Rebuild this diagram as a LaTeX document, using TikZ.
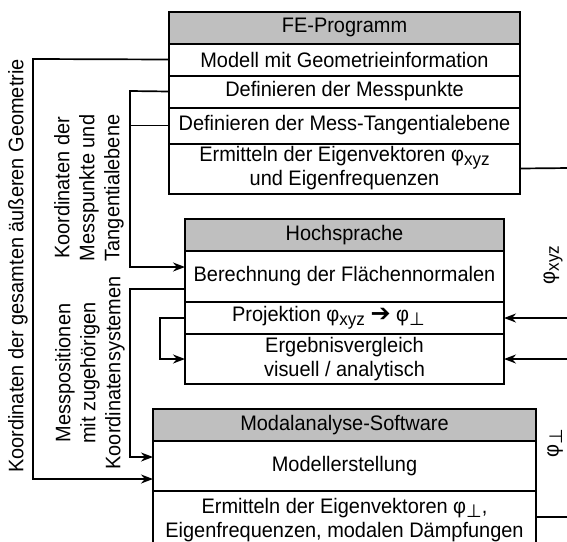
\documentclass[tikz,border=0pt]{standalone}
\usepackage{fontspec}
\setmainfont[FakeStretch=0.95]{Liberation Sans}
\newfontfamily\symfont{DejaVu Sans}
\usepackage{tikz}
\usetikzlibrary{positioning}
\usetikzlibrary{arrows.meta}
\newcommand{\fs}{\fontsize{21}{24}\selectfont}
\newcommand{\subtxt}[1]{\raisebox{-0.35ex}{\fontsize{18}{18}\selectfont #1}}
\newcommand{\perpsym}{{\symfont ⊥}}
\tikzset{	x=1pt, y=-1pt,
	row/.style={
		draw,
		line width=2pt,
		outer sep=0pt,
		inner sep=0pt,
		align=center,
		font=\fs},
	head/.style={
		row,
		fill=black!25,
		minimum height=32pt},
	conn/.style={
		draw,
		line width=1.7pt},
	arr/.style={
		conn,
		-{Stealth[length=12pt,width=9pt]}},
	lbl/.style={
		rotate=90,
		align=center,
		font=\fontsize{21}{25}\selectfont}
}

\begin{document}
\begin{tikzpicture}
				\useasboundingbox (0,0) rectangle (567,541);
				\node[head, minimum width=351pt] (fe) at (344.5,27.5) {FE-Programm};
				\node[row, minimum width=351pt, minimum height=32pt, below=0pt of fe] (fe1) {Modell mit Geometrieinformation};
				\node[row, minimum width=351pt, minimum height=32pt, below=0pt of fe1] (fe2) {Definieren der Messpunkte};
				\node[row, minimum width=351pt, minimum height=36pt, below=0pt of fe2] (fe3) {Definieren der Mess-Tangentialebene};
				\node[row, minimum width=351pt, minimum height=50pt, below=0pt of fe3] (fe4) {Ermitteln der Eigenvektoren φ\subtxt{xyz}\\und Eigenfrequenzen};
				\node[head, minimum width=319pt] (hs) at (344.5,235) {Hochsprache};
				\node[row, minimum width=319pt, minimum height=51pt, below=0pt of hs] (hs2) {Berechnung der Flächennormalen};
				\node[row, minimum width=319pt, minimum height=32pt, below=0pt of hs2] (hs3) {Projektion φ\subtxt{xyz} {\symfont\fontsize{24}{24}\selectfont ➔} φ\subtxt{\perpsym}\hspace*{32pt}};
				\node[row, minimum width=319pt, minimum height=50pt, below=0pt of hs3] (hs4) {Ergebnisvergleich\\visuell / analytisch};
				\node[head, minimum width=383pt] (ma) at (344.5,425) {Modalanalyse-Software};
				\node[row, minimum width=383pt, minimum height=50pt, below=0pt of ma] (ma2) {Modellerstellung};
				\node[row, minimum width=383pt, minimum height=58pt, below=0pt of ma2] (ma3) {Ermitteln der Eigenvektoren φ\subtxt{\perpsym},\\Eigenfrequenzen, modalen Dämpfungen};
				\node[lbl] (lgeo) at (18,266) {Koordinaten der gesamten äußeren Geometrie};
				\node[lbl] (lmess) at (89,188) {Koordinaten der\\Messpunkte und\\Tangentialebene};
				\node[lbl] (lpos) at (90,373) {Messpositionen\\mit zugehörigen\\Koordinatensystemen};
				\node[lbl] (lxyz) at (553,265) {φ\subtxt{xyz}};
				\node[lbl] (lperp) at (555,443) {φ\subtxt{\perpsym}};
				\coordinate (k1) at (33,59);
				\coordinate (k2) at (33,479);
				\coordinate (m1) at (130,91);
				\coordinate (m2) at (130,267);
				\coordinate (n1) at (130,289);
				\coordinate (n2) at (130,457);
				\coordinate (lp) at (160,318);
				\coordinate (r1) at (570,168);
				\coordinate (r2) at (570,318);
				\coordinate (r3) at (570,359);
				\coordinate (r4) at (570,517);
				\draw[arr] (fe1.west) -- (k1) -- (k2) -- (k2 -| ma2.west);
				\draw[arr] (fe2.west) -- (m1) -- (m2) -- (m2 -| hs2.west);
				\draw[conn] (fe3.west) -- (fe3.west -| m1);
				\draw[arr] (n1 -| hs2.west) -- (n1) -- (n2) -- (n2 -| ma2.west);
				\draw[arr] (hs3.west) -- (lp) |- (hs4.west);
				\draw[conn] (fe4.east) -- (r1);
				\draw[arr] (r2) -- (hs3.east);
				\draw[arr] (r3) -- (hs4.east);
				\draw[conn] (r4 -| ma3.east) -- (r4);
			\end{tikzpicture}
\end{document}
